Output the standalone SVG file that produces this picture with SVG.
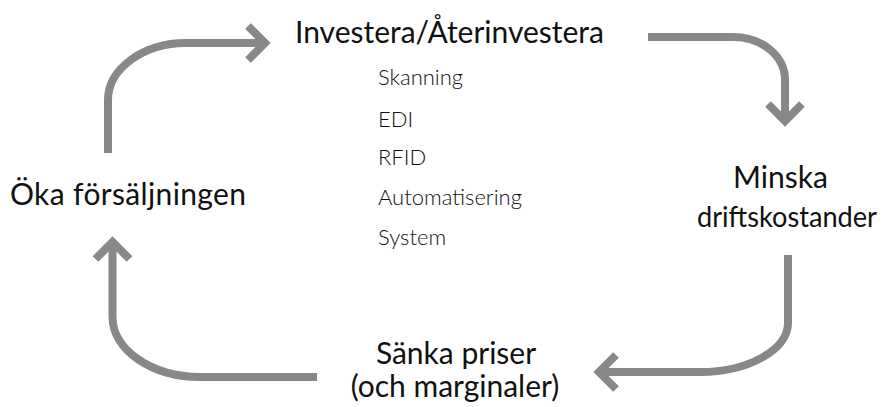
<svg xmlns="http://www.w3.org/2000/svg" width="886" height="407" viewBox="0 0 886 407">
  <style>
    .lbl { font-family: Lato, "Open Sans", "Liberation Sans", sans-serif; font-size: 30px; fill: #111; }
    .sub { font-family: Lato, "Open Sans", "Liberation Sans", sans-serif; font-size: 22px; font-weight: 300; fill: #111; }
    .arc { fill: none; stroke: #87888a; stroke-width: 8; stroke-linecap: butt; }
    .head { fill: none; stroke: #87888a; stroke-width: 8; stroke-linejoin: miter; stroke-linecap: butt; }
  </style>
  <rect width="886" height="407" fill="#ffffff"/>

  <g id="connectors">
    <!-- sales -> invest -->
    <path class="arc" d="M108,153 L108,100 C108,69 143,43 186,43 L262,43"/>
    <path class="head" d="M248,26 L265,43 L248,60"/>
    <!-- invest -> costs -->
    <path class="arc" d="M648,37 L733,37 C762,37 785,56 785,80 L785,118"/>
    <path class="head" d="M768,104 L785,121 L802,104"/>
    <!-- costs -> prices -->
    <path class="arc" d="M788,255 L788,323 C788,350 748,372 700,372 L602,372"/>
    <path class="head" d="M616,355 L599,372 L616,389"/>
    <!-- prices -> sales -->
    <path class="arc" d="M317,377 L200,377 C152,377 112.5,350 112.5,317 L112.5,246"/>
    <path class="head" d="M95.5,259 L112.5,242 L129.5,259"/>
  </g>

  <g id="invest">
    <text class="lbl" x="295" y="43">Investera/Återinvestera</text>
    <text class="sub" x="378" y="85">Skanning</text>
    <text class="sub" x="378" y="127">EDI</text>
    <text class="sub" x="378" y="165">RFID</text>
    <text class="sub" x="378" y="205">Automatisering</text>
    <text class="sub" x="378" y="245">System</text>
  </g>

  <g id="costs">
    <text class="lbl" x="733" y="188" textLength="95" lengthAdjust="spacingAndGlyphs">Minska</text>
    <text class="lbl" x="697" y="227" style="font-size:28px" textLength="180" lengthAdjust="spacingAndGlyphs">driftskostander</text>
  </g>

  <g id="prices">
    <text class="lbl" x="456" y="364" text-anchor="middle">Sänka priser</text>
    <text class="lbl" x="455" y="397" text-anchor="middle">(och marginaler)</text>
  </g>

  <g id="sales">
    <text class="lbl" x="10" y="205" textLength="236" lengthAdjust="spacing">Öka försäljningen</text>
  </g>
</svg>
